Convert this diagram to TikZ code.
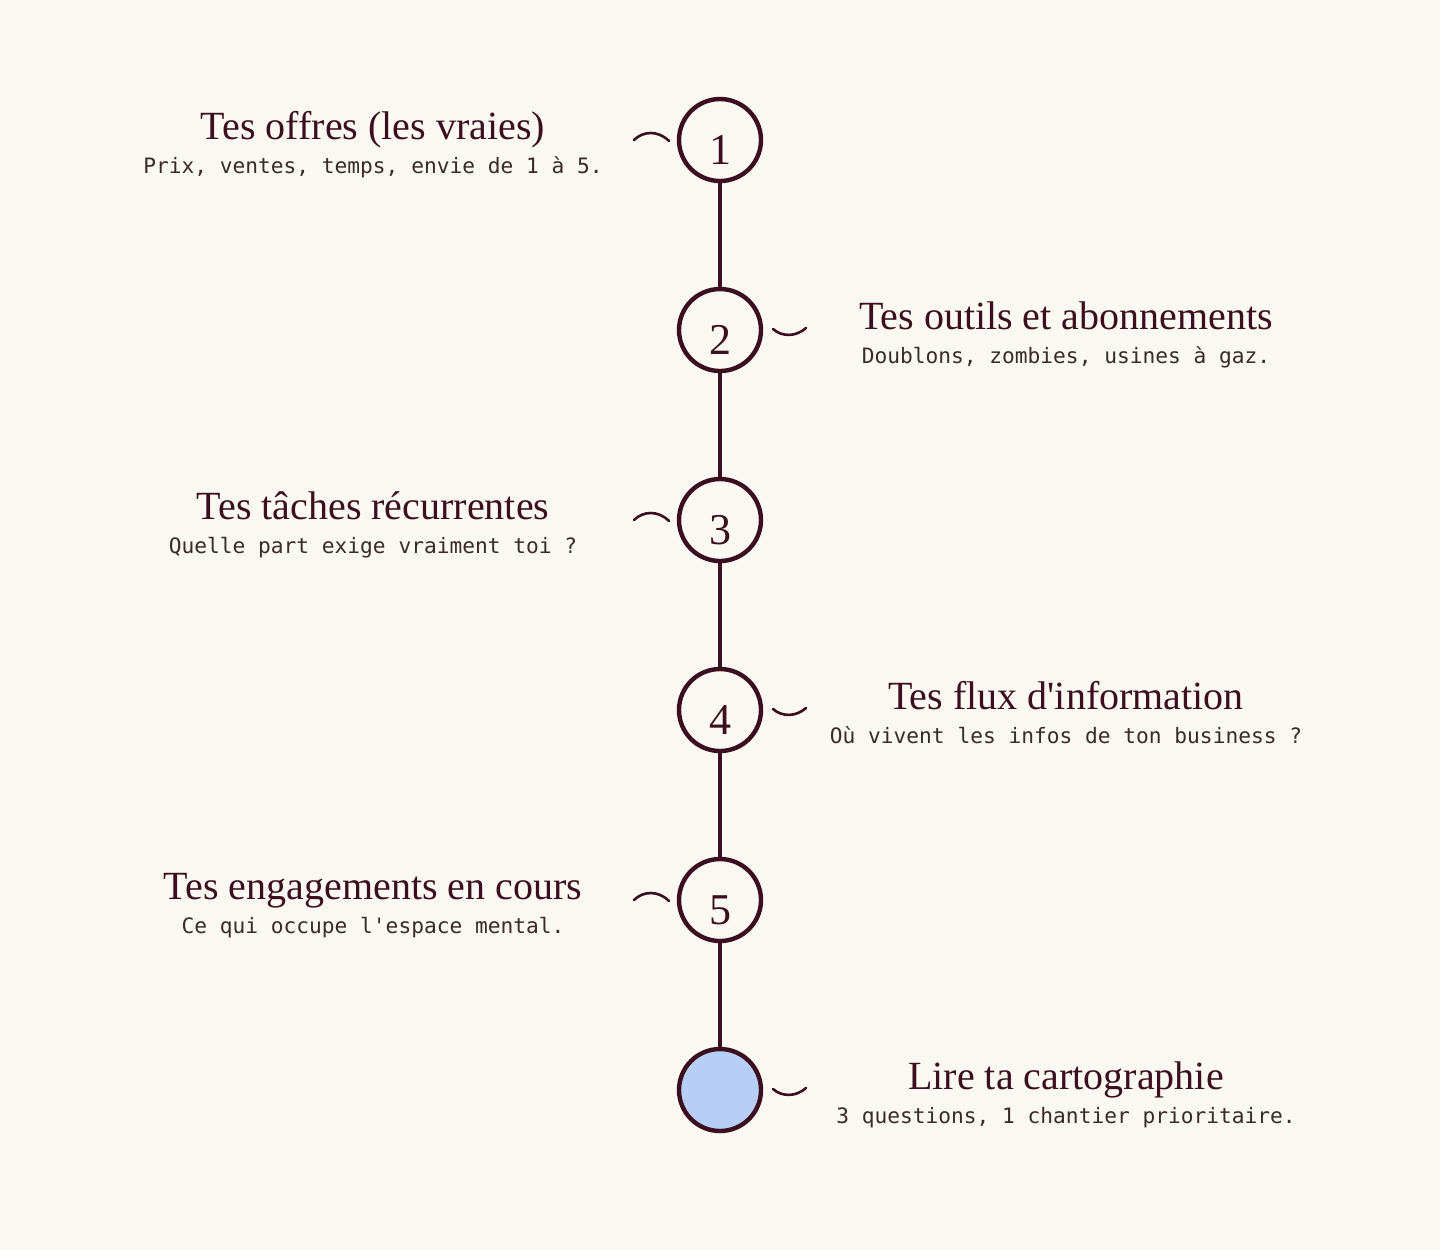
\documentclass[tikz,border=0pt]{standalone}
\usepackage{fontspec}
\setmainfont{Liberation Serif}
\setmonofont{DejaVu Sans Mono}
\usetikzlibrary{calc}

\definecolor{ink}{HTML}{3B0F1E}
\definecolor{inkgray}{HTML}{3A2A2C}
\definecolor{paper}{HTML}{F9F8F2}
\definecolor{bleu}{HTML}{B7CEF6}

\begin{document}
\begin{tikzpicture} [x=0.5pt,y=-0.5pt,
  etape/.style={circle,draw=ink,line width=2.2pt,fill=paper,minimum size=41pt,inner sep=0pt,
    text=ink,text height=24pt,text depth=0pt,font=\fontsize{22}{22}\selectfont},
  titre/.style={anchor=base,text=ink,font=\fontsize{20}{24}\selectfont},
  sous/.style={anchor=base,text=inkgray,font=\ttfamily\fontsize{10.6}{12}\selectfont},
  trait/.style={ink,line width=1.3pt,line cap=round}]
\useasboundingbox[fill=paper] (0,0) rectangle (1440,1250);

% the steps
\foreach \i [evaluate=\i as \yi using int( 140+190*(\i-1) )] in {1,...,5} \node[etape] (s\i) at (720,\yi) {\i};
\node[etape,fill=bleu] (s6) at (720,1090) {};

\foreach \i [evaluate=\i as \j using int( \i+1 )] in {1,...,5} \draw[ink,line width=2pt] (s\i) -- (s\j);

% little strokes next to the circles
\foreach \i in {1,3,5} \draw[trait] ($(s\i)+(-86,0)$) .. controls ($(s\i)+(-77,-9)$) and ($(s\i)+(-62,-10)$) .. ($(s\i)+(-51,1)$);
\foreach \i in {2,4,6} \draw[trait] ($(s\i)+(53,-1)$) .. controls ($(s\i)+(62,7)$) and ($(s\i)+(76,7)$) .. ($(s\i)+(86,-2)$);

% labels
\node[titre] (t1) at (373,139) {Tes offres (les vraies)};
\node[sous] (u1) at (373,173) {Prix, ventes, temps, envie de 1 à 5.};

\node[titre] (t2) at (1066,329) {Tes outils et abonnements};
\node[sous] (u2) at (1066,363) {Doublons, zombies, usines à gaz.};

\node[titre] (t3) at (373,519) {Tes tâches récurrentes};
\node[sous] (u3) at (373,553) {Quelle part exige vraiment toi ?};

\node[titre] (t4) at (1066,709) {Tes flux d\textquotesingle information};
\node[sous] (u4) at (1066,743) {Où vivent les infos de ton business ?};

\node[titre] (t5) at (373,899) {Tes engagements en cours};
\node[sous] (u5) at (373,933) {Ce qui occupe l'espace mental.};

\node[titre] (t6) at (1066,1089) {Lire ta cartographie};
\node[sous] (u6) at (1066,1123) {3 questions, 1 chantier prioritaire.};

\end{tikzpicture}
\end{document}
